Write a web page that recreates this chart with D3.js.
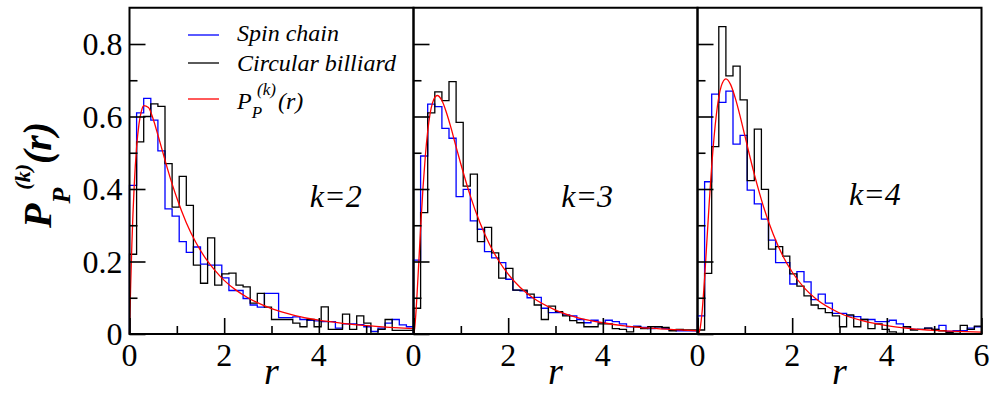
<!DOCTYPE html>
<html>
<head>
<meta charset="utf-8">
<script src="https://cdn.jsdelivr.net/npm/d3@7/dist/d3.min.js"></script>
<style>
  body { margin: 0; background: #fff; }
</style>
</head>
<body>
<svg id="chart" width="997" height="394" style="font-family: 'Liberation Serif'"></svg>
<script>
// ---- data -------------------------------------------------------------
const orders = [2, 3, 4];
const binWidth = 0.15;          // histogram bins start at r = 0

// spin-chain ratio histograms (blue)
const spinChain_k2 = [0.41, 0.61, 0.65, 0.59, 0.505, 0.345, 0.325, 0.255, 0.225, 0.24,
  0.193, 0.19, 0.19, 0.155, 0.12, 0.12, 0.098, 0.08, 0.074, 0.112,
  0.112, 0.045, 0.045, 0.047, 0.04, 0.038, 0.036, 0.034, 0.034, 0.016,
  0.028, 0.028, 0.026, 0.02, 0.007, 0.016, 0.03, 0.04, 0.025, 0.02];
const spinChain_k3 = [0.204, 0.491, 0.634, 0.627, 0.567, 0.54, 0.379, 0.399, 0.312, 0.289,
  0.227, 0.21, 0.197, 0.151, 0.121, 0.119, 0.1, 0.101, 0.071, 0.059,
  0.059, 0.053, 0.05, 0.04, 0.031, 0.038, 0.031, 0.038, 0.034, 0.028,
  0.02, 0.022, 0.018, 0.015, 0.02, 0.015, 0.011, 0.009, 0.009, 0.009];
const spinChain_k4 = [0.05, 0.42, 0.662, 0.639, 0.67, 0.524, 0.548, 0.397, 0.359, 0.317,
  0.259, 0.197, 0.197, 0.138, 0.172, 0.144, 0.095, 0.11, 0.085, 0.057,
  0.057, 0.05, 0.048, 0.04, 0.04, 0.034, 0.034, 0.038, 0.028, 0.02,
  0.013, 0.013, 0.016, 0.013, 0.024, 0.007, 0.009, 0.009, 0.016, 0.02];

// circular-billiard ratio histograms (black)
const billiard_k2 = [0.22, 0.53, 0.60, 0.635, 0.628, 0.47, 0.35, 0.435, 0.355, 0.19,
  0.14, 0.265, 0.135, 0.166, 0.168, 0.135, 0.13, 0.085, 0.112, 0.074,
  0.04, 0.04, 0.04, 0.03, 0.02, 0.04, 0.02, 0.075, 0.013, 0.013,
  0.055, 0.013, 0.05, 0.03, 0.002, 0.013, 0.04, 0.01, 0.01, 0.01];
const billiard_k3 = [0.071, 0.335, 0.61, 0.668, 0.644, 0.696, 0.584, 0.408, 0.441, 0.255,
  0.294, 0.224, 0.154, 0.181, 0.121, 0.121, 0.11, 0.08, 0.04, 0.077,
  0.062, 0.05, 0.037, 0.031, 0.02, 0.02, 0.028, 0.028, 0.015, 0.013,
  0.006, 0.02, 0.015, 0.02, 0.02, 0.018, 0.009, 0.013, 0.011, 0.011];
const billiard_k4 = [0.011, 0.167, 0.517, 0.848, 0.712, 0.739, 0.646, 0.423, 0.565, 0.399,
  0.234, 0.241, 0.215, 0.166, 0.132, 0.105, 0.08, 0.07, 0.059, 0.05,
  0.02, 0.053, 0.02, 0.04, 0.015, 0.028, 0.013, 0.006, 0.002, 0.02,
  0.011, 0.013, 0.016, 0.013, 0.009, 0.004, 0.002, 0.024, 0.013, 0.022];

// Poisson reference curve P_P^(k)(r), sampled
const theoryR = [0, 0.025, 0.05, 0.1, 0.15, 0.2, 0.25, 0.3, 0.4, 0.5, 0.6, 0.7, 0.8, 0.9, 1.0,
  1.2, 1.4, 1.6, 1.8, 2.0, 2.25, 2.5, 3.0, 3.5, 4.0, 4.5, 5.0, 5.5, 6.0];
const theory_k2 = [0, 0.136, 0.247, 0.410, 0.515, 0.579, 0.614, 0.630, 0.625, 0.593, 0.549, 0.503, 0.457, 0.414, 0.375,
  0.307, 0.253, 0.210, 0.176, 0.148, 0.121, 0.100, 0.070, 0.051, 0.038, 0.0295, 0.023, 0.0185, 0.015];
const theory_k3 = [0, 0.016, 0.056, 0.169, 0.292, 0.402, 0.491, 0.559, 0.637, 0.658, 0.644, 0.609, 0.565, 0.516, 0.469,
  0.381, 0.308, 0.249, 0.202, 0.165, 0.129, 0.102, 0.066, 0.044, 0.031, 0.022, 0.016, 0.012, 0.009];
const theory_k4 = [0, 0.002, 0.012, 0.065, 0.154, 0.260, 0.367, 0.463, 0.607, 0.683, 0.704, 0.688, 0.650, 0.601, 0.547,
  0.441, 0.349, 0.275, 0.216, 0.171, 0.128, 0.097, 0.058, 0.036, 0.023, 0.015, 0.010, 0.007, 0.005];

// axis ticks
const yTicksMajor = [0, 0.2, 0.4, 0.6, 0.8];
const yTickLabels = ["0", "0.2", "0.4", "0.6", "0.8"];
const yTicksMinor = [0.1, 0.3, 0.5, 0.7];
const xTicksMajor = [0, 2, 4, 6];
const xTicksMinor = [1, 3, 5];
const xTickLabels = [["0", "2", "4"], ["0", "2", "4"], ["0", "2", "4", "6"]];

const spinSeries = [spinChain_k2, spinChain_k3, spinChain_k4];
const billiardSeries = [billiard_k2, billiard_k3, billiard_k4];
const theorySeries = [theory_k2, theory_k3, theory_k4];

// ---- layout -------------------------------------------------------------
const serif = '"Liberation Serif"';
const panelLeft0 = 129.5, panelW = 284, plotTop = 7.75, plotBottom = 334;
const orderLabelAt = [[3.81, 0.35], [3.12, 0.35], [3.2, 0.355]];   // (r, P) anchor of "k=…"

const svg = d3.select("#chart");
const y = d3.scaleLinear().domain([0, 0.9]).range([plotBottom, plotTop]);

// text helper: every label uses the Times-metric serif face
function label(parent, size, italic) {
  return parent.append("text")
    .style("font-family", serif)
    .attr("font-size", size)
    .attr("font-style", italic ? "italic" : "normal")
    .attr("fill", "#000");
}

function histPoints(vals) {
  const pts = [[0, 0]];
  vals.forEach((v, i) => pts.push([i * binWidth, v]));
  pts.push([vals.length * binWidth, vals[vals.length - 1]]);
  return pts;
}

orders.forEach((k, p) => {
  const x0 = panelLeft0 + p * panelW;
  const x = d3.scaleLinear().domain([0, 6]).range([x0, x0 + panelW]);
  const g = svg.append("g");

  const step = d3.line().x(d => x(d[0])).y(d => y(d[1])).curve(d3.curveStepAfter);
  g.append("path").attr("d", step(histPoints(spinSeries[p])))
    .attr("fill", "none").attr("stroke", "#0000ff").attr("stroke-width", 1.3);
  g.append("path").attr("d", step(histPoints(billiardSeries[p])))
    .attr("fill", "none").attr("stroke", "#000").attr("stroke-width", 1.3);

  const smooth = d3.line().x((d, i) => x(theoryR[i])).y(d => y(d)).curve(d3.curveMonotoneX);
  g.append("path").attr("d", smooth(theorySeries[p]))
    .attr("fill", "none").attr("stroke", "#ff0000").attr("stroke-width", 1.3);

  // frame
  g.append("rect").attr("x", x0).attr("y", plotTop).attr("width", panelW)
    .attr("height", plotBottom - plotTop).attr("fill", "none")
    .attr("stroke", "#000").attr("stroke-width", 2);

  // x axis: major + minor ticks pointing inward (labels drawn separately)
  g.append("g").attr("transform", `translate(0,${plotBottom})`)
    .call(d3.axisBottom(x).tickValues(xTicksMajor).tickSize(-16).tickFormat(""));
  g.append("g").attr("transform", `translate(0,${plotBottom})`)
    .call(d3.axisBottom(x).tickValues(xTicksMinor).tickSize(-8).tickFormat(""));

  // y axis
  g.append("g").attr("transform", `translate(${x0},0)`)
    .call(d3.axisLeft(y).tickValues(yTicksMajor).tickSize(-16).tickFormat(""));
  g.append("g").attr("transform", `translate(${x0},0)`)
    .call(d3.axisLeft(y).tickValues(yTicksMinor).tickSize(-8).tickFormat(""));

  g.selectAll(".domain").remove();
  g.selectAll(".tick text").remove();
  g.selectAll(".tick line").attr("stroke", "#000").attr("stroke-width", 1.6);

  // tick labels
  xTickLabels[p].forEach(t => {
    label(g, 32, false).attr("x", x(+t)).attr("y", 366).attr("text-anchor", "middle").text(t);
  });
  if (p === 0) {
    yTicksMajor.forEach((v, i) => {
      label(g, 32, false).attr("x", x0 - 7).attr("y", y(v) + 11)
        .attr("text-anchor", "end").text(yTickLabels[i]);
    });
  }

  // x title
  label(g, 38, true).attr("x", x(3)).attr("y", 384).attr("text-anchor", "middle").text("r");

  // order label
  label(g, 32, true).attr("x", x(orderLabelAt[p][0])).attr("y", y(orderLabelAt[p][1])).text(`k=${k}`);
});

// y title  P_P^(k)(r), rotated
const yt = label(svg, 40, true).attr("transform", "rotate(-90)")
  .attr("x", -228).attr("y", 51).attr("font-weight", "bold");
yt.append("tspan").attr("font-size", 40).text("P");
yt.append("tspan").attr("font-size", 26).attr("dy", 19).text("P");
yt.append("tspan").attr("font-size", 22).attr("dy", -40).attr("dx", -2).text("(k)");
yt.append("tspan").attr("font-size", 40).attr("dy", 21).text("(r)");

// legend
const legendRows = [
  { color: "#0000ff", y: 35 },
  { color: "#000", y: 63 },
  { color: "#ff0000", y: 99 }
];
const legend = svg.append("g");
legendRows.forEach(r => {
  legend.append("line").attr("x1", 188).attr("x2", 219).attr("y1", r.y).attr("y2", r.y)
    .attr("stroke", r.color).attr("stroke-width", 1.3);
});
label(legend, 24, true).attr("x", 237).attr("y", 41).text("Spin chain");
label(legend, 24, true).attr("x", 237).attr("y", 71).text("Circular billiard");
const lt = label(legend, 24, true).attr("x", 237).attr("y", 109);
lt.append("tspan").attr("font-size", 24).text("P");
lt.append("tspan").attr("font-size", 17).attr("dy", 9).text("P");
lt.append("tspan").attr("font-size", 17).attr("dy", -23).attr("dx", -5).text("(k)");
lt.append("tspan").attr("font-size", 24).attr("dy", 14).attr("dx", 2).text("(r)");
</script>
</body>
</html>
